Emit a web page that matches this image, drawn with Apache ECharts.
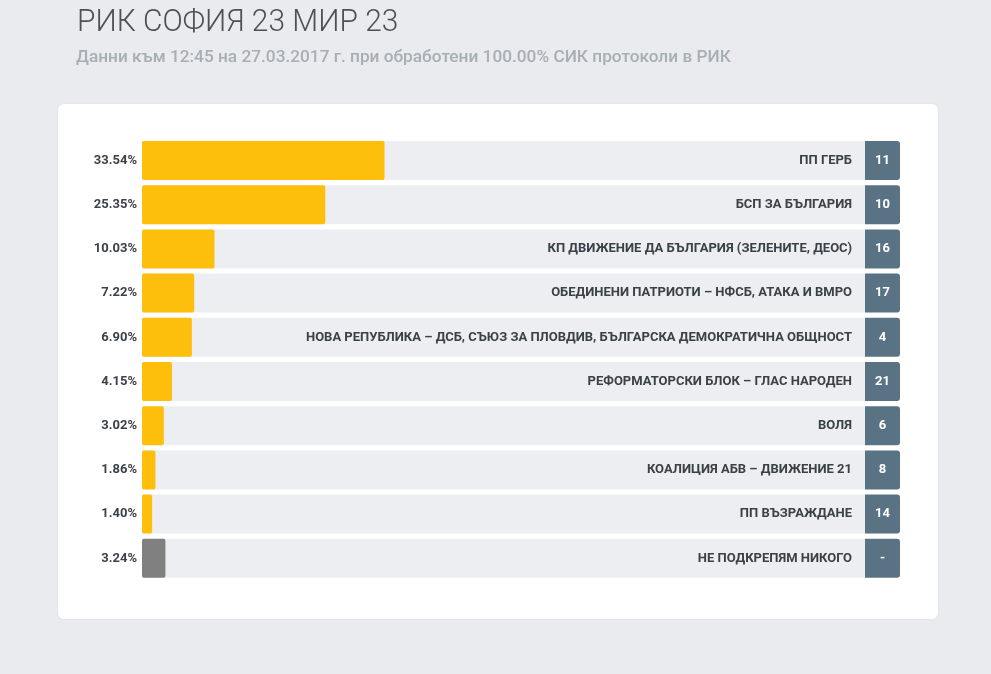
<!DOCTYPE html>
<html><head><meta charset="utf-8">
<script src="https://cdn.jsdelivr.net/npm/echarts@6/dist/echarts.min.js"></script>
<style>html,body{margin:0;padding:0;background:#e9ebee;}#c{width:991px;height:674px;}</style>
</head><body><div id="c"></div>
<script>
const parties = ['ПП ГЕРБ','БСП ЗА БЪЛГАРИЯ','КП ДВИЖЕНИЕ ДА БЪЛГАРИЯ (ЗЕЛЕНИТЕ, ДЕОС)','ОБЕДИНЕНИ ПАТРИОТИ – НФСБ, АТАКА И ВМРО','НОВА РЕПУБЛИКА – ДСБ, СЪЮЗ ЗА ПЛОВДИВ, БЪЛГАРСКА ДЕМОКРАТИЧНА ОБЩНОСТ','РЕФОРМАТОРСКИ БЛОК – ГЛАС НАРОДЕН','ВОЛЯ','КОАЛИЦИЯ АБВ – ДВИЖЕНИЕ 21','ПП ВЪЗРАЖДАНЕ','НЕ ПОДКРЕПЯМ НИКОГО'];
const percents = [33.54,25.35,10.03,7.22,6.90,4.15,3.02,1.86,1.40,3.24];
const ballotNumbers = ['11','10','16','17','4','21','6','8','14','-'];
const title = 'РИК СОФИЯ 23 МИР 23';
const subtitle = 'Данни към 12:45 на 27.03.2017 г. при обработени 100.00% СИК протоколи в РИК';

const chart = echarts.init(document.getElementById('c'));
const TOP = 138.4, BOTTOM = 93.6, BARW = 39;
chart.setOption({
  backgroundColor: '#e9ebee',
  animation: false,
  graphic: [
    {type:'rect', shape:{x:58,y:104,width:880,height:515,r:6}, style:{fill:'#ffffff', shadowBlur:3, shadowColor:'rgba(0,0,0,0.05)'}, z:-10},
    {type:'text', x:77, y:23.5, scaleX:0.965, style:{text:title, font:'300 31px Roboto', fill:'#4b5157', verticalAlign:'middle'}},
    {type:'text', x:76, y:58, scaleX:1.015, style:{text:subtitle, font:'500 17px Roboto', fill:'#a7aeb5', verticalAlign:'middle'}}
  ],
  grid: [
    {left:142, right:126, top:TOP, bottom:BOTTOM},
    {left:865, width:35, top:TOP, bottom:BOTTOM}
  ],
  xAxis: [
    {gridIndex:0, type:'value', min:0, max:100, show:false},
    {gridIndex:1, type:'value', min:0, max:1, show:false}
  ],
  yAxis: [
    {gridIndex:0, type:'category', inverse:true, data:parties,
     axisLine:{show:false}, axisTick:{show:false},
     axisLabel:{margin:5, color:'#3c4348', fontFamily:'Roboto', fontWeight:'bold', fontSize:13,
       formatter:(v,i)=>percents[i].toFixed(2)+'%'}},
    {gridIndex:1, type:'category', inverse:true, data:parties, show:false}
  ],
  series: [
    {type:'bar', xAxisIndex:0, yAxisIndex:0, barWidth:BARW, silent:true,
     data: parties.map(()=>100),
     itemStyle:{color:'#eceef1', borderRadius:0},
     label:{show:true, position:'insideRight', distance:13, color:'#3a4147',
       fontFamily:'Roboto', fontWeight:'bold', fontSize:13,
       formatter:p=>parties[p.dataIndex]}},
    {type:'bar', xAxisIndex:0, yAxisIndex:0, barWidth:BARW, barGap:'-100%',
     data: percents.map((v,i)=>({value:v, itemStyle:{color: i===percents.length-1?'#808080':'#fdbf0b'}})),
     itemStyle:{borderRadius:2}},
    {type:'bar', xAxisIndex:1, yAxisIndex:1, barWidth:BARW,
     data: parties.map(()=>1),
     itemStyle:{color:'#5a7384', borderRadius:[0,3,3,0]},
     label:{show:true, position:'inside', color:'#ffffff', fontFamily:'Roboto', fontWeight:'bold', fontSize:13,
       formatter:p=>ballotNumbers[p.dataIndex]}}
  ]
});
</script></body></html>
